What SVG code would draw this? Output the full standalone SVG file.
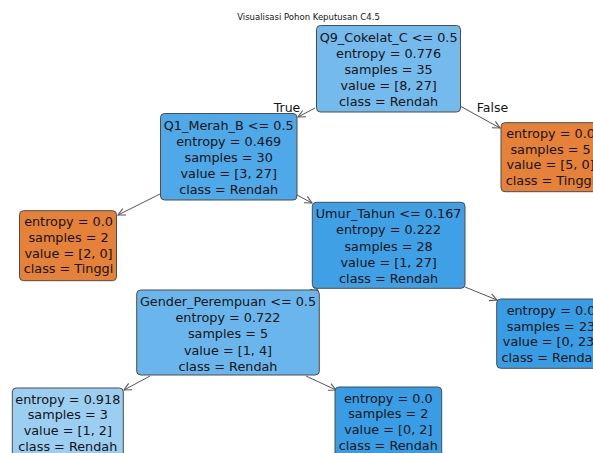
<svg xmlns="http://www.w3.org/2000/svg" width="593" height="453" viewBox="0 0 593 453">
<style>
  text { font-family: "DejaVu Sans", "Liberation Sans", sans-serif; fill: #141414; }
  .n { font-size: 12.8px; text-anchor: middle; }
  .lbl { font-size: 12.5px; text-anchor: middle; }
  .title { font-size: 8.5px; text-anchor: middle; }
  .box { stroke: #4d4d4d; stroke-width: 1; }
  .edge { stroke: #555; stroke-width: 1; fill: none; }
</style>
<defs>
  <marker id="ah" viewBox="0 0 10 10" refX="9" refY="5" markerWidth="9" markerHeight="9" markerUnits="userSpaceOnUse" orient="auto">
    <path d="M1,1 L9,5 L1,9" fill="none" stroke="#555" stroke-width="1.2"/>
  </marker>
</defs>
<rect width="593" height="453" fill="#ffffff"/>
<text class="title" x="308.5" y="19.5">Visualisasi Pohon Keputusan C4.5</text>

<g id="connectors">
  <line class="edge" x1="315" y1="108" x2="298" y2="117" marker-end="url(#ah)"/>
  <line class="edge" x1="460" y1="106" x2="500" y2="128" marker-end="url(#ah)"/>
  <line class="edge" x1="162" y1="193" x2="118" y2="215" marker-end="url(#ah)"/>
  <line class="edge" x1="297" y1="195" x2="312" y2="203" marker-end="url(#ah)"/>
  <line class="edge" x1="313" y1="287" x2="318" y2="291" marker-end="url(#ah)"/>
  <line class="edge" x1="465" y1="287" x2="497" y2="300" marker-end="url(#ah)"/>
  <line class="edge" x1="150" y1="376" x2="124" y2="390" marker-end="url(#ah)"/>
  <line class="edge" x1="306" y1="376" x2="336" y2="390" marker-end="url(#ah)"/>
  <text class="lbl" x="287" y="112">True</text>
  <text class="lbl" x="492.5" y="112">False</text>
</g>

<g id="root">
  <rect class="box" x="316.5" y="25.5" width="144" height="86.5" rx="4" fill="#74baed"/>
  <text class="n" x="388.6" y="41.5">Q9_Cokelat_C &lt;= 0.5</text>
  <text class="n" x="388.6" y="57.7">entropy = 0.776</text>
  <text class="n" x="388.6" y="73.9">samples = 35</text>
  <text class="n" x="388.6" y="90.1">value = [8, 27]</text>
  <text class="n" x="388.6" y="106.3">class = Rendah</text>
</g>

<g id="q1">
  <rect class="box" x="160.5" y="113.5" width="136.5" height="86.5" rx="4" fill="#4fa8e8"/>
  <text class="n" x="228.7" y="129.5">Q1_Merah_B &lt;= 0.5</text>
  <text class="n" x="228.7" y="145.7">entropy = 0.469</text>
  <text class="n" x="228.7" y="161.9">samples = 30</text>
  <text class="n" x="228.7" y="178.1">value = [3, 27]</text>
  <text class="n" x="228.7" y="194.3">class = Rendah</text>
</g>

<g id="leaf-false">
  <rect class="box" x="501" y="122.7" width="100" height="69" rx="4" fill="#e58139"/>
  <text class="n" x="550.5" y="138">entropy = 0.0</text>
  <text class="n" x="550.5" y="153.7">samples = 5</text>
  <text class="n" x="550.5" y="169.4">value = [5, 0]</text>
  <text class="n" x="550.5" y="185.1">class = Tinggi</text>
</g>

<g id="leaf-left">
  <rect class="box" x="19.5" y="210.7" width="97" height="70" rx="4" fill="#e58139"/>
  <text class="n" x="68.5" y="226.2">entropy = 0.0</text>
  <text class="n" x="68.5" y="241.9">samples = 2</text>
  <text class="n" x="68.5" y="257.6">value = [2, 0]</text>
  <text class="n" x="68.5" y="273.3">class = Tinggi</text>
</g>

<g id="umur">
  <rect class="box" x="312.3" y="202.3" width="152.7" height="86" rx="4" fill="#40a0e6"/>
  <text class="n" x="388.6" y="218.2">Umur_Tahun &lt;= 0.167</text>
  <text class="n" x="388.6" y="234.4">entropy = 0.222</text>
  <text class="n" x="388.6" y="250.6">samples = 28</text>
  <text class="n" x="388.6" y="266.8">value = [1, 27]</text>
  <text class="n" x="388.6" y="283">class = Rendah</text>
</g>

<g id="gender">
  <rect class="box" x="136.7" y="290" width="182.6" height="85" rx="4" fill="#6ab6ec"/>
  <text class="n" x="228" y="306">Gender_Perempuan &lt;= 0.5</text>
  <text class="n" x="228" y="322.2">entropy = 0.722</text>
  <text class="n" x="228" y="338.4">samples = 5</text>
  <text class="n" x="228" y="354.6">value = [1, 4]</text>
  <text class="n" x="228" y="370.8">class = Rendah</text>
</g>

<g id="leaf-right">
  <rect class="box" x="496.7" y="299" width="105" height="69.3" rx="4" fill="#399de5"/>
  <text class="n" x="551" y="314.8">entropy = 0.0</text>
  <text class="n" x="551" y="330.5">samples = 23</text>
  <text class="n" x="551" y="346.2">value = [0, 23]</text>
  <text class="n" x="551" y="361.9">class = Rendah</text>
</g>

<g id="leaf-bl">
  <rect class="box" x="12.3" y="388" width="111" height="70" rx="4" fill="#9ccef2"/>
  <text class="n" x="67.8" y="403.5">entropy = 0.918</text>
  <text class="n" x="67.8" y="419.2">samples = 3</text>
  <text class="n" x="67.8" y="434.9">value = [1, 2]</text>
  <text class="n" x="67.8" y="450.6">class = Rendah</text>
</g>

<g id="leaf-br">
  <rect class="box" x="335" y="387" width="106.7" height="70" rx="4" fill="#399de5"/>
  <text class="n" x="388.3" y="402.5">entropy = 0.0</text>
  <text class="n" x="388.3" y="418.2">samples = 2</text>
  <text class="n" x="388.3" y="433.9">value = [0, 2]</text>
  <text class="n" x="388.3" y="449.6">class = Rendah</text>
</g>
</svg>
